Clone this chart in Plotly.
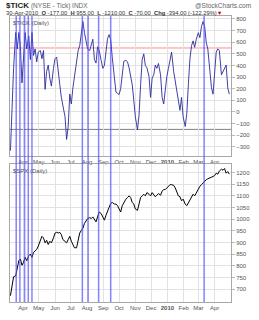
import plotly.graph_objects as go

# ---- data ----
dates = [
    "2009-03-08","2009-03-11","2009-03-14","2009-03-18","2009-03-21","2009-03-24","2009-03-27","2009-03-30",
    "2009-04-02","2009-04-05","2009-04-08","2009-04-12","2009-04-15","2009-04-18","2009-04-21","2009-04-24",
    "2009-04-27","2009-04-30","2009-05-04","2009-05-07","2009-05-10","2009-05-13","2009-05-16","2009-05-19",
    "2009-05-22","2009-05-25","2009-05-29","2009-06-01","2009-06-04","2009-06-07","2009-06-10","2009-06-13",
    "2009-06-16","2009-06-20","2009-06-23","2009-06-26","2009-06-29","2009-07-02","2009-07-05","2009-07-08",
    "2009-07-12","2009-07-15","2009-07-18","2009-07-21","2009-07-24","2009-07-27","2009-07-30","2009-08-02",
    "2009-08-06","2009-08-09","2009-08-12","2009-08-15","2009-08-18","2009-08-21","2009-08-24","2009-08-28",
    "2009-08-31","2009-09-03","2009-09-06","2009-09-09","2009-09-12","2009-09-15","2009-09-18","2009-09-22",
    "2009-09-25","2009-09-28","2009-10-01","2009-10-04","2009-10-07","2009-10-10","2009-10-14","2009-10-17",
    "2009-10-20","2009-10-23","2009-10-26","2009-10-29","2009-11-01","2009-11-05","2009-11-08","2009-11-11",
    "2009-11-14","2009-11-17","2009-11-20","2009-11-23","2009-11-27","2009-11-30","2009-12-03","2009-12-06",
    "2009-12-09","2009-12-12","2009-12-15","2009-12-19","2009-12-22","2009-12-25","2009-12-28","2009-12-31",
    "2010-01-03","2010-01-06","2010-01-09","2010-01-13","2010-01-16","2010-01-19","2010-01-22","2010-01-25",
    "2010-01-28","2010-01-31","2010-02-04","2010-02-07","2010-02-10","2010-02-13","2010-02-16","2010-02-19",
    "2010-02-22","2010-02-25","2010-03-01","2010-03-04","2010-03-07","2010-03-10","2010-03-13","2010-03-16",
    "2010-03-19","2010-03-23","2010-03-26","2010-03-29","2010-04-01","2010-04-04","2010-04-07","2010-04-10",
    "2010-04-14","2010-04-17","2010-04-20","2010-04-23","2010-04-26","2010-04-29",
]

tick_values = [
    -333, 50, 375, 683, 542, 683, 560, 250, 514, 683, 542, 653, 450, 683, 486, 542,
    431, 514, 528, 458, 528, 194, 347, 403, 292, 222, 375, 458, 472, 375, 236, 125,
    42, -42, -236, -125, 153, 69, 208, 292, 431, 528, 569, 683, 778, 683, 597, 542,
    528, 583, 625, 450, 420, 560, 530, 440, 375, 400, 520, 630, 665, 620, 470, 280,
    170, 160, 150, 200, 350, 435, 444, 431, 380, 292, 236, 100, -42, -153, -28, 236,
    450, 500, 400, 380, 306, 125, 292, 319, 403, 375, 417, 319, 125, 69, 208, 306,
    375, 431, 514, 347, 264, 208, 100, 14, 125, -42, -125, -14, 236, 458, 569, 611,
    556, 625, 681, 639, 736, 778, 736, 597, 542, 375, 208, 153, 375, 514, 542, 528,
    319, 347, 389, 403, 208, 153,
]

spx_values = [
    673, 720, 754, 758, 795, 823, 830, 803, 816, 837, 823, 844, 851, 837, 858, 865,
    871, 885, 906, 927, 920, 899, 910, 892, 906, 899, 920, 941, 944, 941, 944, 934,
    913, 906, 899, 913, 927, 906, 892, 878, 878, 913, 941, 952, 961, 982, 996, 1003,
    1007, 1003, 1010, 999, 989, 1010, 1031, 1024, 1010, 996, 1017, 1038, 1051, 1068, 1072, 1065,
    1065, 1058, 1044, 1031, 1058, 1072, 1086, 1093, 1100, 1093, 1072, 1065, 1044, 1038, 1065, 1093,
    1100, 1107, 1100, 1114, 1107, 1100, 1114, 1107, 1096, 1103, 1110, 1103, 1120, 1127, 1127, 1134,
    1141, 1148, 1148, 1145, 1134, 1120, 1100, 1096, 1079, 1086, 1065, 1058, 1072, 1079, 1100, 1107,
    1100, 1114, 1127, 1141, 1148, 1155, 1165, 1169, 1173, 1176, 1179, 1183, 1187, 1197, 1193, 1206,
    1214, 1210, 1217, 1197, 1204, 1193,
]

signal_dates = ["2009-03-19", "2009-03-26", "2009-04-04", "2009-04-11", "2009-04-18",
                "2009-07-23", "2009-08-03", "2009-08-23", "2009-09-15", "2010-03-12"]

month_ticks = ["2009-04-01","2009-05-01","2009-06-01","2009-07-01","2009-08-01","2009-09-01",
               "2009-10-01","2009-11-01","2009-12-01","2010-01-01","2010-02-01","2010-03-01","2010-04-01"]
month_labels = ["Apr","May","Jun","Jul","Aug","Sep","Oct","Nov","Dec","<b>2010</b>","Feb","Mar","Apr"]

tick_yticks = [-300, -200, -100, 0, 100, 200, 300, 400, 500, 600, 700, 800]
spx_yticks = [700, 750, 800, 850, 900, 950, 1000, 1050, 1100, 1150, 1200]

upper_level = 550
lower_level = -150

x_range = ["2009-03-07 04:00", "2010-05-02 05:00"]

FONT = "Liberation Sans"
GRID = "#e2e2e2"
BORDER = "#a8a8a8"
TXT = "#555555"

fig = go.Figure()
fig.add_trace(go.Scatter(x=dates, y=tick_values, mode="lines",
                         line=dict(color="#2a2a9c", width=0.9), xaxis="x", yaxis="y",
                         showlegend=False, hoverinfo="skip"))
fig.add_trace(go.Scatter(x=dates, y=spx_values, mode="lines",
                         line=dict(color="#000000", width=1.0), xaxis="x2", yaxis="y2",
                         showlegend=False, hoverinfo="skip"))

xcommon = dict(range=x_range, type="date", tickvals=month_ticks, ticktext=month_labels,
               showgrid=True, gridcolor=GRID, gridwidth=1, showline=True, linecolor=BORDER,
               linewidth=1, mirror=True, ticks="", zeroline=False,
               tickfont=dict(family=FONT, size=6, color=TXT))
ycommon = dict(side="right", showgrid=True, gridcolor=GRID, gridwidth=1, showline=True,
               linecolor=BORDER, linewidth=1, mirror=True, ticks="outside", ticklen=3,
               tickcolor="#bbbbbb", zeroline=False, tickfont=dict(family=FONT, size=6, color=TXT))

shapes = []
for d in signal_dates:
    shapes.append(dict(type="line", xref="x", yref="paper", x0=d, x1=d, y0=0, y1=1,
                       line=dict(color="rgba(80,80,255,0.7)", width=1.5), layer="above"))
shapes.append(dict(type="line", xref="paper", yref="y", x0=0, x1=1, y0=upper_level, y1=upper_level,
                   line=dict(color="#ff8c8c", width=1), layer="below"))
shapes.append(dict(type="line", xref="paper", yref="y", x0=0, x1=1, y0=lower_level, y1=lower_level,
                   line=dict(color="#808080", width=1), layer="below"))

annotations = [
    dict(xref="paper", yref="paper", x=-0.027, y=1.036, xanchor="left", yanchor="middle",
         text="<b><span style='font-size:8px;color:#222'>$TICK</span></b> (NYSE - Tick) INDX",
         showarrow=False, font=dict(family=FONT, size=6.5, color="#666")),
    dict(xref="paper", yref="paper", x=1.1, y=1.036, xanchor="right", yanchor="middle",
         text="@StockCharts.com", showarrow=False, font=dict(family=FONT, size=6.5, color="#666")),
    dict(xref="paper", yref="paper", x=-0.027, y=1.011, xanchor="left", yanchor="middle",
         text="30-Apr-2010  <b>O</b> -177.00  <b>H</b> 955.00  <b>L</b> -1210.00  <b>C</b> -70.00  "
              "<b>Chg</b> -394.00 (-122.29%)<span style='color:#dd0000'>▼</span>",
         showarrow=False, font=dict(family=FONT, size=5.8, color="#333")),
    dict(xref="paper", yref="paper", x=0.006, y=0.993, xanchor="left", yanchor="top",
         text="$TICK (Daily)", showarrow=False, font=dict(family=FONT, size=6, color="#555")),
    dict(xref="paper", yref="paper", x=0.006, y=0.476, xanchor="left", yanchor="top",
         text="$SPX (Daily)", showarrow=False, font=dict(family=FONT, size=6, color="#555")),
]

fig.update_layout(
    width=259, height=320,
    margin=dict(l=10, r=26, t=16, b=9),
    paper_bgcolor="white", plot_bgcolor="white",
    xaxis=dict(domain=[0, 1], anchor="y", **xcommon),
    yaxis=dict(domain=[0.512, 1], anchor="x", range=[-375, 825], tickvals=tick_yticks, **ycommon),
    xaxis2=dict(domain=[0, 1], anchor="y2", **xcommon),
    yaxis2=dict(domain=[0, 0.4814], anchor="x2", range=[646, 1235], tickvals=spx_yticks, **ycommon),
    shapes=shapes, annotations=annotations, showlegend=False,
)

fig.write_html("out.html")
